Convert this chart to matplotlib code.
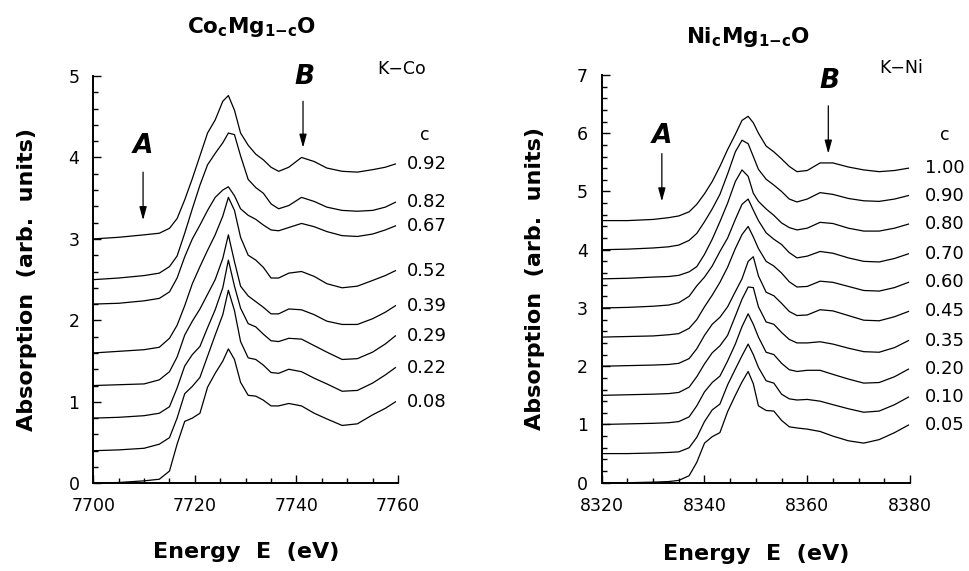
import matplotlib
matplotlib.use("Agg")
import matplotlib.pyplot as plt
from matplotlib.ticker import MultipleLocator

# ---- Co K-edge, CocMg1-cO ----
co_energy = [7700, 7705, 7710, 7713, 7715, 7716.5, 7718, 7719.5, 7721, 7722.5,
             7724, 7725.5, 7726.6, 7727.8, 7729, 7730.5, 7732, 7733.5, 7735, 7736.5,
             7738.5, 7741, 7743.5, 7746, 7749, 7752, 7755, 7757.5, 7759.5]
co_conc = ["0.92", "0.82", "0.67", "0.52", "0.39", "0.29", "0.22", "0.08"]
co_092 = [3.00, 3.02, 3.05, 3.07, 3.13, 3.25, 3.48, 3.74, 4.02, 4.30,
          4.46, 4.69, 4.76, 4.58, 4.30, 4.15, 4.04, 3.97, 3.88, 3.83,
          3.88, 4.00, 3.95, 3.87, 3.83, 3.82, 3.85, 3.88, 3.92]
co_082 = [2.50, 2.52, 2.55, 2.58, 2.66, 2.79, 3.07, 3.37, 3.66, 3.91,
          4.05, 4.18, 4.30, 4.28, 4.02, 3.73, 3.63, 3.56, 3.43, 3.37,
          3.41, 3.51, 3.46, 3.39, 3.35, 3.34, 3.35, 3.39, 3.45]
co_067 = [2.20, 2.21, 2.24, 2.27, 2.35, 2.52, 2.78, 3.00, 3.17, 3.35,
          3.51, 3.60, 3.64, 3.53, 3.37, 3.29, 3.24, 3.17, 3.11, 3.10,
          3.14, 3.19, 3.15, 3.09, 3.04, 3.03, 3.06, 3.11, 3.16]
co_052 = [1.60, 1.62, 1.64, 1.67, 1.78, 1.94, 2.18, 2.45, 2.66, 2.86,
          3.05, 3.28, 3.51, 3.35, 3.02, 2.80, 2.74, 2.65, 2.52, 2.52,
          2.58, 2.60, 2.54, 2.45, 2.40, 2.42, 2.49, 2.55, 2.61]
co_039 = [1.20, 1.21, 1.22, 1.27, 1.37, 1.55, 1.82, 1.99, 2.14, 2.32,
          2.50, 2.76, 3.05, 2.72, 2.42, 2.30, 2.23, 2.16, 2.08, 2.08,
          2.14, 2.13, 2.07, 1.99, 1.95, 1.95, 2.02, 2.10, 2.18]
co_029 = [0.80, 0.81, 0.83, 0.86, 0.94, 1.17, 1.44, 1.58, 1.68, 1.91,
          2.13, 2.40, 2.74, 2.42, 2.15, 1.96, 1.92, 1.83, 1.75, 1.74,
          1.78, 1.77, 1.69, 1.61, 1.52, 1.53, 1.61, 1.71, 1.81]
co_022 = [0.40, 0.41, 0.43, 0.48, 0.56, 0.80, 1.10, 1.19, 1.30, 1.56,
          1.82, 2.07, 2.37, 2.12, 1.74, 1.54, 1.52, 1.45, 1.36, 1.35,
          1.40, 1.37, 1.29, 1.22, 1.13, 1.14, 1.23, 1.33, 1.42]
co_008 = [0.00, 0.01, 0.03, 0.05, 0.15, 0.48, 0.76, 0.80, 0.86, 1.18,
          1.35, 1.50, 1.65, 1.52, 1.24, 1.08, 1.07, 1.02, 0.95, 0.95,
          0.98, 0.95, 0.86, 0.79, 0.71, 0.73, 0.84, 0.92, 1.00]

# ---- Ni K-edge, NicMg1-cO ----
ni_energy = [8320, 8325, 8330, 8333, 8335, 8337, 8338.5, 8340, 8341.5, 8343,
             8344.5, 8346, 8347.3, 8348.5, 8349.5, 8350.5, 8352, 8353.5, 8355, 8356.5,
             8358, 8360, 8362.5, 8365, 8368, 8371, 8374, 8377, 8379.7]
ni_conc = ["1.00", "0.90", "0.80", "0.70", "0.60", "0.45", "0.35", "0.20", "0.10", "0.05"]
ni_100 = [4.50, 4.50, 4.52, 4.55, 4.58, 4.65, 4.78, 4.96, 5.17, 5.43,
          5.72, 5.98, 6.22, 6.29, 6.18, 6.00, 5.78, 5.68, 5.56, 5.43,
          5.34, 5.36, 5.49, 5.49, 5.42, 5.37, 5.34, 5.36, 5.40]
ni_090 = [4.00, 4.01, 4.03, 4.05, 4.08, 4.16, 4.28, 4.48, 4.70, 4.95,
          5.30, 5.68, 5.88, 5.82, 5.60, 5.38, 5.21, 5.11, 5.00, 4.87,
          4.82, 4.87, 4.98, 4.95, 4.88, 4.84, 4.83, 4.87, 4.93]
ni_080 = [3.50, 3.51, 3.53, 3.54, 3.56, 3.62, 3.71, 3.92, 4.18, 4.48,
          4.80, 5.17, 5.37, 5.26, 4.97, 4.83, 4.70, 4.59, 4.46, 4.38,
          4.34, 4.37, 4.47, 4.45, 4.37, 4.32, 4.32, 4.37, 4.44]
ni_070 = [3.00, 3.01, 3.03, 3.05, 3.09, 3.20, 3.38, 3.53, 3.72, 3.97,
          4.20, 4.52, 4.78, 4.87, 4.68, 4.50, 4.29, 4.18, 4.09, 3.95,
          3.86, 3.89, 3.97, 3.94, 3.86, 3.80, 3.79, 3.85, 3.93]
ni_060 = [2.50, 2.51, 2.52, 2.54, 2.56, 2.65, 2.80, 3.02, 3.22, 3.44,
          3.70, 4.02, 4.26, 4.40, 4.22, 4.02, 3.80, 3.72, 3.60, 3.45,
          3.36, 3.37, 3.46, 3.44, 3.37, 3.30, 3.29, 3.35, 3.44]
ni_045 = [2.00, 2.01, 2.02, 2.03, 2.05, 2.13, 2.30, 2.53, 2.72, 2.84,
          3.02, 3.28, 3.50, 3.80, 3.88, 3.55, 3.27, 3.21, 3.08, 2.94,
          2.87, 2.88, 2.97, 2.95, 2.87, 2.79, 2.78, 2.85, 2.94]
ni_035 = [1.50, 1.51, 1.52, 1.53, 1.55, 1.64, 1.82, 2.04, 2.23, 2.35,
          2.53, 2.86, 3.15, 3.36, 3.35, 3.02, 2.76, 2.72, 2.58, 2.46,
          2.40, 2.40, 2.42, 2.38, 2.31, 2.25, 2.24, 2.32, 2.44]
ni_020 = [1.00, 1.01, 1.02, 1.03, 1.05, 1.13, 1.32, 1.56, 1.72, 1.83,
          2.09, 2.38, 2.68, 2.90, 2.72, 2.50, 2.24, 2.20, 2.05, 1.94,
          1.91, 1.93, 1.93, 1.86, 1.78, 1.71, 1.72, 1.82, 1.95]
ni_010 = [0.50, 0.50, 0.51, 0.52, 0.53, 0.60, 0.78, 1.05, 1.25, 1.35,
          1.68, 1.95, 2.18, 2.38, 2.20, 1.98, 1.75, 1.71, 1.52, 1.44,
          1.42, 1.43, 1.40, 1.34, 1.27, 1.21, 1.23, 1.34, 1.47]
ni_005 = [0.00, 0.00, 0.01, 0.02, 0.04, 0.12, 0.35, 0.68, 0.79, 0.86,
          1.22, 1.50, 1.73, 1.91, 1.70, 1.32, 1.24, 1.23, 1.07, 0.96,
          0.94, 0.92, 0.88, 0.80, 0.72, 0.68, 0.74, 0.86, 0.99]

co_spectra = [co_092, co_082, co_067, co_052, co_039, co_029, co_022, co_008]
ni_spectra = [ni_100, ni_090, ni_080, ni_070, ni_060, ni_045, ni_035, ni_020, ni_010, ni_005]

plt.rcParams["font.family"] = "DejaVu Sans"
plt.rcParams["mathtext.fontset"] = "dejavusans"

fig = plt.figure(figsize=(9.69, 5.71), dpi=100)
ax1 = fig.add_axes([0.0963, 0.1536, 0.3144, 0.7133])
ax2 = fig.add_axes([0.6210, 0.1546, 0.3181, 0.7141])


def style_axis(ax, xlim, ymax):
    ax.set_xlim(*xlim)
    ax.set_ylim(0, ymax)
    for s in ("top", "right"):
        ax.spines[s].set_visible(False)
    for s in ("left", "bottom"):
        ax.spines[s].set_linewidth(1.4)
    ax.xaxis.set_major_locator(MultipleLocator(20))
    ax.xaxis.set_minor_locator(MultipleLocator(5))
    ax.yaxis.set_major_locator(MultipleLocator(1))
    ax.yaxis.set_minor_locator(MultipleLocator(0.2))
    ax.tick_params(which="both", direction="in", width=1.0, labelsize=12.5, pad=10)
    ax.tick_params(which="major", length=6)
    ax.tick_params(which="minor", length=3.5)
    ax.set_xlabel("Energy  E  (eV)", fontsize=16, fontweight="bold")
    ax.set_ylabel("Absorption  (arb.  units)", fontsize=16, fontweight="bold")


def draw_panel(ax, energy, spectra, conc, lab_x):
    for mu, c in zip(spectra, conc):
        ax.plot(energy, mu, color="black", lw=0.9)
        ax.text(lab_x, mu[-1], c, fontsize=13, ha="left", va="center", clip_on=False)


arrow = dict(arrowstyle="-|>,head_length=0.8,head_width=0.22", color="black",
             lw=0.9, shrinkA=0, shrinkB=0)
letter = dict(fontsize=19, fontweight="bold", fontstyle="italic", ha="center", va="center")

# left panel
style_axis(ax1, (7700, 7760), 5)
draw_panel(ax1, co_energy, co_spectra, co_conc, 7761.7)
ax1.text(7765.3, 4.28, "c", fontsize=12.5, ha="center", va="center")
ax1.text(7760.8, 5.08, "K\u2212Co", fontsize=12.5, ha="center", va="center")
ax1.annotate("", xy=(7709.8, 3.23), xytext=(7709.8, 3.82), arrowprops=arrow)
ax1.text(7709.8, 4.14, "A", **letter)
ax1.annotate("", xy=(7741.3, 4.12), xytext=(7741.3, 4.69), arrowprops=arrow)
ax1.text(7741.5, 4.99, "B", clip_on=False, **letter)
ax1.yaxis.set_label_coords(-0.185, 0.5)
ax1.xaxis.set_label_coords(0.503, -0.145)

# right panel
style_axis(ax2, (8320, 8380), 7)
draw_panel(ax2, ni_energy, ni_spectra, ni_conc, 8382.9)
ax2.text(8386.8, 5.97, "c", fontsize=12.5, ha="center", va="center", clip_on=False)
ax2.text(8378.3, 7.12, "K\u2212Ni", fontsize=12.5, ha="center", va="center", clip_on=False)
ax2.annotate("", xy=(8331.7, 4.83), xytext=(8331.7, 5.65), arrowprops=arrow)
ax2.text(8331.7, 5.95, "A", **letter)
ax2.annotate("", xy=(8364.1, 5.65), xytext=(8364.1, 6.47), arrowprops=arrow)
ax2.text(8364.4, 6.89, "B", **letter)
ax2.yaxis.set_label_coords(-0.184, 0.5)
ax2.xaxis.set_label_coords(0.50, -0.15)

fig.text(0.260, 0.953, r"$\mathbf{Co_cMg_{1{-}c}O}$", fontsize=15.5, ha="center", va="center")
fig.text(0.772, 0.936, r"$\mathbf{Ni_cMg_{1{-}c}O}$", fontsize=15.5, ha="center", va="center")

fig.savefig("out.png", dpi=100)
